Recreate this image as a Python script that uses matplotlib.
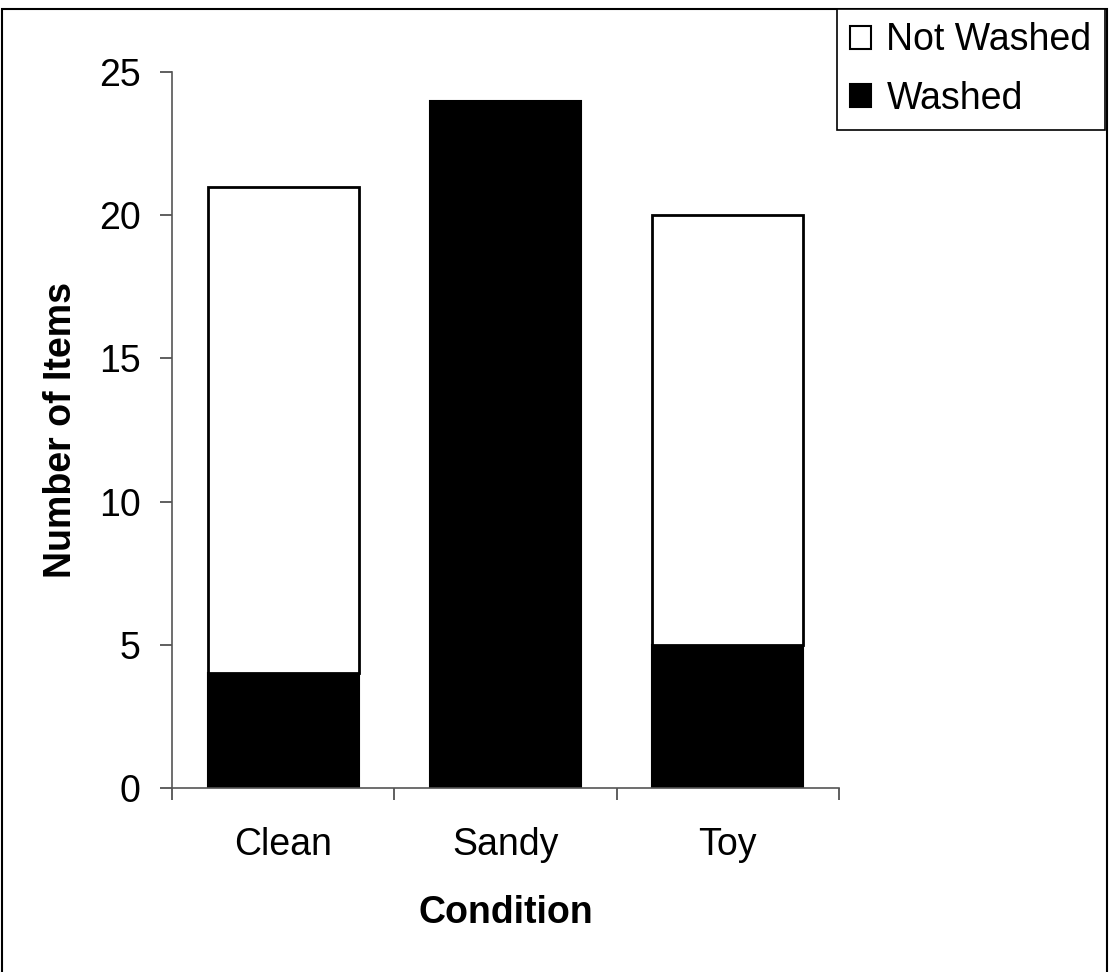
import matplotlib.pyplot as plt
from matplotlib.patches import Rectangle, Patch

# dane do wykresu
kategorie = ['Clean', 'Sandy', 'Toy']
washed = [4, 24, 5]
not_washed = [17, 0, 15]
y_ticks = [0, 5, 10, 15, 20, 25]

plt.rcParams['font.family'] = ['Liberation Sans', 'DejaVu Sans']
rozmiar = 27

W, H = 1110, 972
fig = plt.figure(figsize=(W / 100, H / 100), dpi=100)
ax = fig.add_axes([172 / W, 1 - 788 / H, (839 - 172) / W, (788 - 72) / H])

x = list(range(len(kategorie)))

# słupki skumulowane
ax.bar(x, washed, width=0.68, color='black', edgecolor='black', linewidth=1.5)
ax.bar(x, not_washed, bottom=washed, width=0.68, color='white',
       edgecolor='black', linewidth=2)

ax.set_xlim(-0.5, 2.5)
ax.set_ylim(0, 25)

for s in ['top', 'right']:
    ax.spines[s].set_visible(False)
for s in ['left', 'bottom']:
    ax.spines[s].set_color('#555555')
    ax.spines[s].set_linewidth(1.2)

# oś X: etykiety kategorii, kreski między kategoriami
ax.set_xticks(x)
ax.set_xticklabels(kategorie)
ax.set_xticks([-0.5, 0.5, 1.5, 2.5], minor=True)
ax.tick_params(axis='x', which='major', length=0, pad=28, labelsize=rozmiar)
ax.tick_params(axis='x', which='minor', length=8.6, width=1.2,
               color='#444444', direction='out')

# oś Y
ax.set_yticks(y_ticks)
ax.tick_params(axis='y', length=8.6, width=1.2, color='#444444',
               direction='out', pad=14, labelsize=rozmiar)

ax.set_xlabel('Condition', fontsize=rozmiar, fontweight='bold', labelpad=23)
ax.set_ylabel('Number of Items', fontsize=rozmiar, fontweight='bold', labelpad=14)

# legenda w prawym górnym rogu
uchwyty = [Patch(facecolor='white', edgecolor='black', linewidth=1.5, label='Not Washed'),
           Patch(facecolor='black', edgecolor='black', linewidth=1.5, label='Washed')]
leg = fig.legend(handles=uchwyty, loc='upper right',
                 bbox_to_anchor=(1105 / W, 1 - 9 / H),
                 frameon=True, fancybox=False, edgecolor='black', framealpha=1,
                 fontsize=rozmiar, handlelength=0.57, handleheight=0.57,
                 handletextpad=0.4, labelspacing=0.6, borderpad=0.36,
                 borderaxespad=0)
leg.get_frame().set_linewidth(1.2)

# ramka wokół całego obrazka
fig.patches.append(Rectangle((1.5 / W, -0.05), (1106.5 - 1.5) / W, 1 - 9 / H + 0.05,
                             transform=fig.transFigure, fill=False,
                             edgecolor='black', linewidth=1.5))

fig.savefig('out.png', dpi=100)
